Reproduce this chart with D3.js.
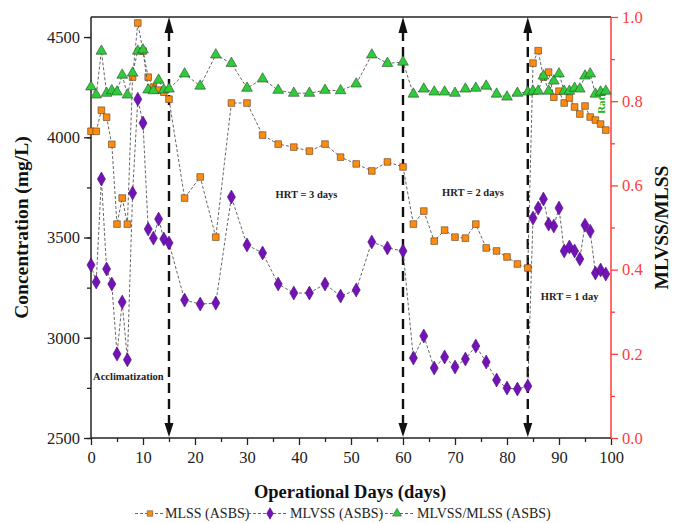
<!DOCTYPE html>
<html><head><meta charset="utf-8">
<script src="https://cdn.jsdelivr.net/npm/d3@7/dist/d3.min.js"></script>
<style>
body{margin:0;background:#fff;}
svg{display:block;font-family:"Liberation Serif","Times New Roman",serif;}
</style></head>
<body><svg id="c" width="673" height="523"></svg>
<script>
const days = [0,1,2,3,4,5,6,7,8,9,10,11,12,13,14,15,
  18,21,24,27,30,33,36,39,42,45,48,51,54,57,60,
  62,64,66,68,70,72,74,76,78,80,82,84,
  85,86,87,88,89,90,91,92,93,94,95,96,97,98,99];
const mlss = [4030,4030,4135,4100,3965,3567,3697,3567,4300,4570,4430,4300,4250,4235,4225,4190,
  3697,3802,3502,4171,4171,4011,3966,3951,3931,3966,3901,3867,3832,3877,3852,
  3567,3632,3482,3537,3502,3497,3567,3448,3433,3403,3368,3348,
  4370,4432,4300,4325,4200,4230,4171,4196,4151,4116,4156,4101,4086,4066,4036];
const mlvss = [3363,3278,3792,3343,3268,2919,3178,2890,3722,4190,4071,3542,3497,3592,3493,3473,
  3188,3168,3173,3702,3463,3423,3268,3223,3223,3268,3208,3238,3478,3448,3433,
  2899,3009,2849,2904,2854,2894,2959,2879,2789,2749,2744,2759,
  3597,3647,3692,3567,3557,3647,3433,3453,3433,3393,3562,3532,3323,3338,3318];
const ratio = [0.834,0.815,0.919,0.819,0.825,0.822,0.862,0.815,0.867,0.919,0.922,0.827,0.825,0.85,0.827,0.829,
  0.865,0.836,0.91,0.89,0.831,0.853,0.826,0.819,0.819,0.826,0.825,0.841,0.91,0.89,0.893,
  0.817,0.829,0.822,0.822,0.819,0.829,0.831,0.836,0.817,0.81,0.819,0.822,
  0.824,0.824,0.86,0.824,0.848,0.865,0.824,0.824,0.831,0.829,0.86,0.865,0.817,0.822,0.824];
const phaseDays = [15, 60, 84];
const xTicks = [0,10,20,30,40,50,60,70,80,90,100];
const yTicks = [2500,3000,3500,4000,4500];
const rTicks = [0.0,0.2,0.4,0.6,0.8,1.0];
const annotations = [
  {text:"Acclimatization", day:0.4, val:2790},
  {text:"HRT = 3 days", day:35.5, val:3695},
  {text:"HRT = 2 days", day:67.5, val:3705},
  {text:"HRT = 1 day", day:86.5, val:3190}
];

const svg = d3.select("#c");
const L=91, R=611, T=17, B=438;
const x = d3.scaleLinear().domain([0,100]).range([L,R]);
const y = d3.scaleLinear().domain([2500,4600]).range([B,T]);
const yr = d3.scaleLinear().domain([0,1]).range([B,T]);
const red = "#ff3b3b";

svg.append("line").attr("x1",L).attr("x2",R).attr("y1",T).attr("y2",T).attr("stroke","#222").attr("stroke-width",1.5);

const fmtAxis = g => { g.selectAll("text").attr("font-family","Liberation Serif, serif").attr("font-size",16.5); };
svg.append("g").attr("transform",`translate(${L},0)`)
  .call(d3.axisLeft(y).tickValues(d3.range(2500,4601,250)).tickSize(4).tickFormat(""))
  .call(g=>{g.select(".domain").remove(); g.selectAll("line").attr("stroke","#222").attr("stroke-width",1.3);});
svg.append("g").attr("transform",`translate(${L},0)`)
  .call(d3.axisLeft(y).tickValues(yTicks).tickSize(7).tickPadding(4).tickFormat(d3.format("d")))
  .call(g=>{g.select(".domain").attr("d",`M0,${T}V${B}`).attr("stroke","#222").attr("stroke-width",1.5);
    g.selectAll("line").attr("stroke","#222").attr("stroke-width",1.3);
    fmtAxis(g); g.selectAll("text").attr("fill","#222");});
svg.append("g").attr("transform",`translate(0,${B})`)
  .call(d3.axisBottom(x).tickValues(d3.range(5,100,10)).tickSize(4).tickFormat(""))
  .call(g=>{g.select(".domain").remove(); g.selectAll("line").attr("stroke","#222").attr("stroke-width",1.3);});
svg.append("g").attr("transform",`translate(0,${B})`)
  .call(d3.axisBottom(x).tickValues(xTicks).tickSize(7).tickPadding(6).tickFormat(d3.format("d")))
  .call(g=>{g.select(".domain").attr("d",`M${L},0H${R}`).attr("stroke","#222").attr("stroke-width",1.5);
    g.selectAll("line").attr("stroke","#222").attr("stroke-width",1.3);
    fmtAxis(g); g.selectAll("text").attr("fill","#222");});
svg.append("g").attr("transform",`translate(${R},0)`)
  .call(d3.axisRight(yr).tickValues(d3.range(0.1,1,0.2)).tickSize(4).tickFormat(""))
  .call(g=>{g.select(".domain").remove(); g.selectAll("line").attr("stroke",red).attr("stroke-width",1.3);});
svg.append("g").attr("transform",`translate(${R},0)`)
  .call(d3.axisRight(yr).tickValues(rTicks).tickSize(7).tickPadding(4).tickFormat(d3.format(".1f")))
  .call(g=>{g.select(".domain").attr("d",`M0,${T}V${B}`).attr("stroke",red).attr("stroke-width",1.5);
    g.selectAll("line").attr("stroke",red).attr("stroke-width",1.3);
    fmtAxis(g); g.selectAll("text").attr("fill",red);});

svg.append("text").attr("transform",`translate(28,${(T+B)/2}) rotate(-90)`).attr("text-anchor","middle")
  .attr("font-weight","bold").attr("font-size",19.5).attr("fill","#111").text("Concentration (mg/L)");
svg.append("text").attr("x",350).attr("y",498).attr("text-anchor","middle")
  .attr("font-weight","bold").attr("font-size",18.5).attr("fill","#111").text("Operational Days (days)");
svg.append("text").attr("transform",`translate(668,${(T+B)/2}) rotate(-90)`).attr("text-anchor","middle")
  .attr("font-weight","bold").attr("font-size",19.5).attr("fill","#111").text("MLVSS/MLSS");

annotations.forEach(a=>{
  svg.append("text").attr("x",x(a.day)).attr("y",y(a.val)).attr("font-weight","bold").attr("font-size",10.5)
    .attr("fill","#222").text(a.text);
});
svg.append("text").attr("transform",`translate(${x(98.8)},${yr(0.77)}) rotate(-90)`)
  .attr("font-weight","bold").attr("font-size",11).attr("fill","#22b422").text("Ratio");

phaseDays.forEach(d=>{
  const xx = x(d);
  svg.append("line").attr("x1",xx).attr("x2",xx).attr("y1",T+14).attr("y2",B-12)
    .attr("stroke","#111").attr("stroke-width",2.4).attr("stroke-dasharray","10,6");
  svg.append("path").attr("d",`M${xx},${T}L${xx-4.5},${T+16}L${xx+4.5},${T+16}Z`).attr("fill","#111");
  svg.append("path").attr("d",`M${xx},${B-1}L${xx-4.5},${B-15}L${xx+4.5},${B-15}Z`).attr("fill","#111");
});

const series = [
  {vals:mlss, sc:y, sym:d3.symbolSquare, size:44, fill:"#ff8a10", stroke:"#5a4020"},
  {vals:mlvss, sc:y, sym:d3.symbolDiamond, size:56, fill:"#7212b8", stroke:"#4a1070"},
  {vals:ratio, sc:yr, sym:d3.symbolTriangle, size:50, fill:"#2ecc3a", stroke:"#2a4a2a"}
];
series.forEach(s=>{
  const pts = days.map((d,i)=>[x(d), s.sc(s.vals[i])]);
  svg.append("path").attr("d",d3.line()(pts)).attr("fill","none").attr("stroke","#555")
    .attr("stroke-width",0.9).attr("stroke-dasharray","3,2");
  svg.append("g").selectAll("path").data(pts).join("path")
    .attr("transform",p=>`translate(${p[0]},${p[1]})`)
    .attr("d",d3.symbol().type(s.sym).size(s.size))
    .attr("fill",s.fill).attr("stroke",s.stroke).attr("stroke-width",0.6);
});

const legendItems = [
  {label:"MLSS (ASBS)", s:0, l0:135, m:150, tx:165},
  {label:"MLVSS (ASBS)", s:1, l0:243, m:270, tx:290},
  {label:"MLVSS/MLSS (ASBS)", s:2, l0:380, m:397, tx:417}
];
const ly = 518;
legendItems.forEach(it=>{
  const s = series[it.s];
  svg.append("line").attr("x1",it.l0).attr("x2",it.tx-2).attr("y1",ly-4.5).attr("y2",ly-4.5)
    .attr("stroke","#555").attr("stroke-width",0.9).attr("stroke-dasharray","3,2");
  svg.append("path").attr("transform",`translate(${it.m},${ly-4.5})`)
    .attr("d",d3.symbol().type(s.sym).size(s.size*0.7)).attr("fill",s.fill).attr("stroke",s.stroke).attr("stroke-width",0.5);
  svg.append("text").attr("x",it.tx).attr("y",ly).attr("font-size",14).attr("fill","#222").text(it.label);
});
</script></body></html>
